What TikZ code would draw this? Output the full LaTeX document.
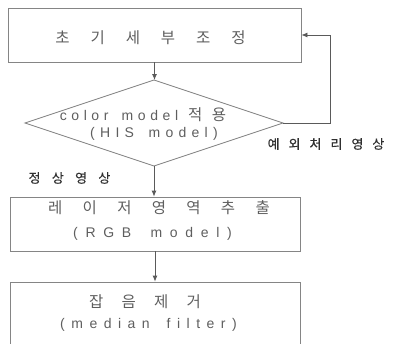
\documentclass[tikz,border=0pt]{standalone}
\usepackage{fontspec}
\setmainfont{Noto Sans CJK KR}
\newfontfamily\kr{Noto Sans CJK KR}
\newfontfamily\krb[FakeBold=0.6]{Noto Sans CJK KR}
\newfontfamily\lat{Liberation Sans}
\usetikzlibrary{arrows.meta}
\definecolor{txtc}{HTML}{5E5E5E}
\definecolor{lblc}{HTML}{303030}
\definecolor{linec}{HTML}{858585}
\definecolor{arrc}{HTML}{5A5A5A}
\newcommand\fK{\kr\fontsize{15.5pt}{18pt}\selectfont}
\newcommand\fL{\lat\fontsize{14pt}{17pt}\selectfont}
\newcommand\fB{\krb\fontsize{13pt}{16pt}\selectfont}
\ExplSyntaxOn
\NewDocumentCommand \spaced { m m }
  {
    \bool_set_true:N \l_tmpa_bool
    \tl_map_inline:nn {#2}
      {
        \bool_if:NTF \l_tmpa_bool { \bool_set_false:N \l_tmpa_bool } { \hspace{#1} }
        {##1}
      }
  }
\ExplSyntaxOff
\begin{document}
\begin{tikzpicture}[x=1pt,y=-1pt,
  box/.style={draw=linec,line width=0.8pt,rectangle,inner sep=0pt},
  lbl/.style={inner sep=0pt,anchor=base,text=txtc},
  side/.style={inner sep=0pt,anchor=base,text=lblc},
  arr/.style={draw=arrc,line width=0.8pt,-{Latex[length=6pt,width=5pt]}}]
\useasboundingbox (0,0) rectangle (399,343);
\clip (0,0) rectangle (399,343);
% boxes
\node[box,minimum width=293pt,minimum height=54pt] (b1) at (154.5,35) {};
\node[box,minimum width=290pt,minimum height=54pt] (b2) at (155,224) {};
\node[box,minimum width=290pt,minimum height=100pt] (b3) at (155,332) {};
% diamond
\coordinate (dt) at (154,80);
\coordinate (dr) at (283,123);
\coordinate (db) at (154,166);
\coordinate (dl) at (25,123);
\draw[draw=linec,line width=0.8pt] (dt) -- (dr) -- (db) -- (dl) -- cycle;
% texts
\node[lbl] (t1) at (150.5,43.8) {\fK\spaced{20.9pt}{초기세부조정}};
\node[lbl] (t2a) at (143,120.5) {\fL\spaced{4.6pt}{color~model}\hspace{10pt}{\fK\spaced{9.5pt}{적용}}};
\node[lbl] (t2b) at (154,137.2) {\fL\spaced{5.3pt}{(HIS~model)}};
\node[lbl] (t3a) at (159,213.8) {\fK\spaced{20.3pt}{레이저영역추출}};
\node[lbl] (t3b) at (152.5,237.2) {\fL\spaced{7.7pt}{(RGB~model)}};
\node[lbl] (t4a) at (145,307.8) {\fK\spaced{18.2pt}{잡음제거}};
\node[lbl] (t4b) at (148.5,328.2) {\fL\spaced{6.5pt}{(median~filter)}};
\node[side] (l1) at (326,148.8) {\fB\spaced{9pt}{예외처리영상}};
\node[side] (l2) at (69.5,182.8) {\fB\spaced{11.3pt}{정상영상}};
% connectors
\coordinate (fb) at (330,123);
\draw[arr] (b1.south) -- (b1.south |- dt);
\draw[arr] (db) -- (db |- b2.north);
\draw[arr] (b2.south) -- (b3.north);
\draw[arr] (dr) -- (fb) |- (b1.east);
\end{tikzpicture}
\end{document}
